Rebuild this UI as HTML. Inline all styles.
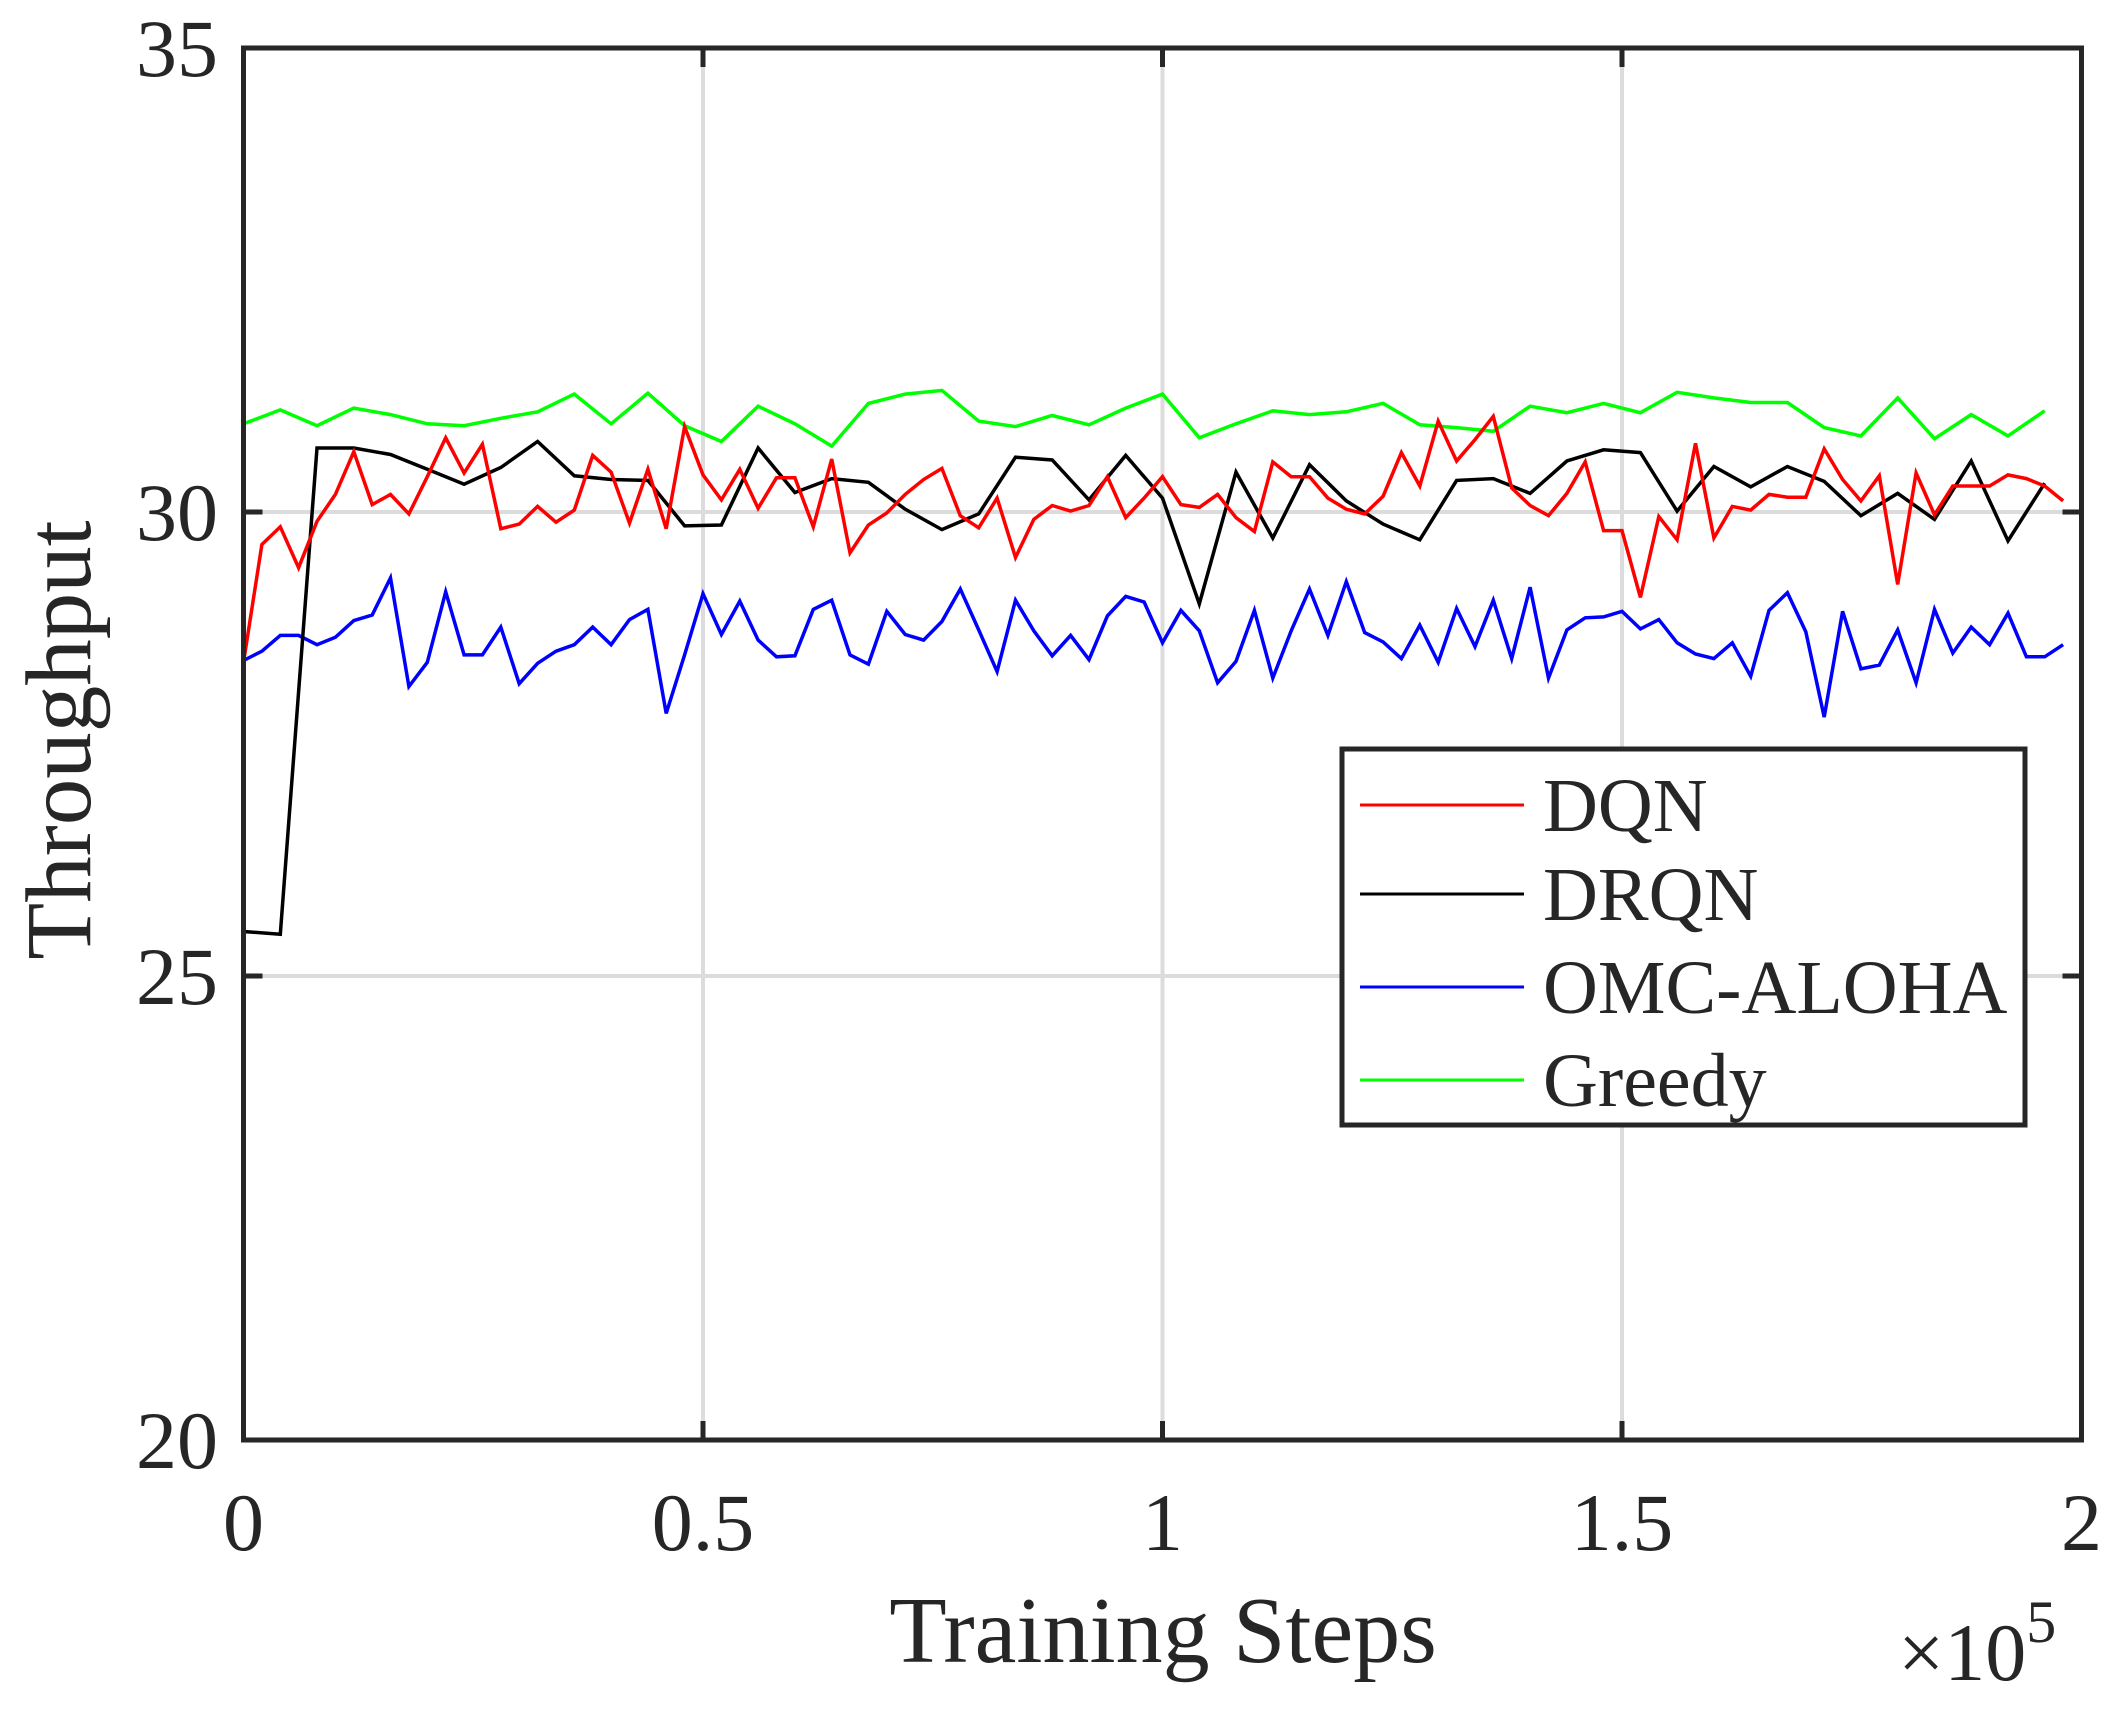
<!DOCTYPE html>
<html><head><meta charset="utf-8"><style>
html,body{margin:0;padding:0;background:#fff;}
svg{display:block;}
text{font-family:"Liberation Serif",serif;fill:#262626;}
</style></head><body>
<svg id="chart" width="2128" height="1713" viewBox="0 0 2128 1713" xmlns="http://www.w3.org/2000/svg">
<rect x="0" y="0" width="2128" height="1713" fill="#fff"/>
<g id="grid"></g>
<g id="series"></g>
<g id="axes"></g>
<text x="0" y="0" font-size="93" text-anchor="middle" transform="translate(90,740) rotate(-90)">Throughput</text>
<text x="1163" y="1662" font-size="94" text-anchor="middle">Training Steps</text>
<text x="1898" y="1680" font-size="82">×10<tspan dy="-38" font-size="60">5</tspan></text>
<g id="legend">
<rect x="1342" y="749" width="683" height="376" fill="#fff" stroke="#262626" stroke-width="5"/>
<g><line x1="1360" y1="805" x2="1524" y2="805" stroke="#ff0000" stroke-width="3"/><text x="1543" y="831" font-size="76">DQN</text></g>
<g><line x1="1360" y1="894" x2="1524" y2="894" stroke="#000" stroke-width="3"/><text x="1543" y="920" font-size="76">DRQN</text></g>
<g><line x1="1360" y1="987" x2="1524" y2="987" stroke="#0000ff" stroke-width="3"/><text x="1543" y="1013" font-size="76">OMC-ALOHA</text></g>
<g><line x1="1360" y1="1080" x2="1524" y2="1080" stroke="#00ff00" stroke-width="3"/><text x="1543" y="1106" font-size="76">Greedy</text></g>
</g>
</svg>
<script>
const xTicks = [0, 0.5, 1, 1.5, 2];
const xTickLabels = ["0", "0.5", "1", "1.5", "2"];
const yTicks = [20, 25, 30, 35];
const yTickLabels = ["20", "25", "30", "35"];
const dqn = [28.38,29.65,29.84,29.40,29.90,30.19,30.65,30.08,30.19,29.98,30.38,30.80,30.42,30.73,29.82,29.87,30.06,29.89,30.02,30.61,30.43,29.88,30.46,29.82,30.92,30.40,30.13,30.46,30.04,30.37,30.37,29.84,30.57,29.56,29.86,29.99,30.19,30.35,30.47,29.96,29.83,30.15,29.51,29.92,30.07,30.01,30.07,30.38,29.94,30.15,30.38,30.08,30.05,30.19,29.94,29.79,30.54,30.38,30.38,30.15,30.03,29.98,30.17,30.64,30.28,30.98,30.55,30.78,31.03,30.26,30.07,29.96,30.20,30.54,29.80,29.80,29.08,29.95,29.70,30.74,29.72,30.06,30.02,30.19,30.16,30.16,30.68,30.35,30.12,30.39,29.22,30.42,29.97,30.28,30.28,30.28,30.40,30.36,30.28,30.12];
const omc = [28.40,28.50,28.67,28.67,28.57,28.65,28.83,28.89,29.29,28.12,28.38,29.14,28.46,28.46,28.76,28.15,28.37,28.50,28.57,28.76,28.57,28.84,28.95,27.83,28.46,29.12,28.68,29.04,28.62,28.44,28.45,28.95,29.05,28.46,28.36,28.93,28.68,28.62,28.82,29.17,28.73,28.28,29.05,28.72,28.45,28.67,28.41,28.88,29.09,29.03,28.59,28.94,28.72,28.16,28.39,28.94,28.21,28.72,29.17,28.67,29.25,28.70,28.60,28.42,28.78,28.38,28.96,28.55,29.05,28.42,29.19,28.21,28.73,28.86,28.87,28.93,28.74,28.84,28.59,28.47,28.42,28.59,28.23,28.94,29.13,28.71,27.79,28.93,28.31,28.35,28.73,28.16,28.95,28.48,28.76,28.57,28.91,28.44,28.44,28.57];
const drqn = [25.48,25.45,30.69,30.69,30.62,30.46,30.30,30.48,30.76,30.39,30.35,30.34,29.85,29.86,30.69,30.21,30.36,30.32,30.03,29.81,29.98,30.59,30.56,30.13,30.61,30.15,29.01,30.43,29.72,30.51,30.12,29.87,29.70,30.34,30.36,30.20,30.55,30.67,30.64,30.01,30.49,30.27,30.49,30.33,29.96,30.20,29.92,30.55,29.69,30.31];
const greedy = [30.95,31.10,30.93,31.12,31.05,30.95,30.93,31.01,31.08,31.27,30.95,31.28,30.93,30.76,31.14,30.95,30.71,31.17,31.27,31.31,30.98,30.92,31.04,30.94,31.12,31.27,30.80,30.95,31.09,31.05,31.08,31.17,30.94,30.91,30.87,31.14,31.07,31.17,31.07,31.29,31.23,31.18,31.18,30.91,30.82,31.23,30.79,31.05,30.82,31.09];
const fineStep = 0.02;
const coarseStep = 0.04;

const L = 243.5, R = 2081.5, T = 48, B = 1440;
const NS = 'http://www.w3.org/2000/svg';
function sx(v){ return L + (v - 0) / (2 - 0) * (R - L); }
function sy(v){ return B - (v - 20) / (35 - 20) * (B - T); }
function mk(tag, attrs, parent){
  const e = document.createElementNS(NS, tag);
  for (const k in attrs) e.setAttribute(k, attrs[k]);
  parent.appendChild(e);
  return e;
}
const grid = document.getElementById('grid');
const axes = document.getElementById('axes');
const series = document.getElementById('series');

xTicks.forEach((t, i) => {
  const X = sx(t);
  if (i > 0 && i < xTicks.length - 1) {
    const g = mk('line', {x1:X, y1:T, x2:X, y2:B, stroke:'#dcdcdc', 'stroke-width':4}, grid);
    
    
  }
  const tk = mk('path', {d:`M${X},${B}V${B-19}M${X},${T}V${T+19}`, stroke:'#262626', 'stroke-width':5}, axes);
  
  
  const lb = mk('text', {x:X, y:1550, 'font-size':82, 'text-anchor':'middle'}, axes);
  lb.textContent = xTickLabels[i];
  
  
});
yTicks.forEach((t, i) => {
  const Y = sy(t);
  if (i > 0 && i < yTicks.length - 1) {
    const g = mk('line', {x1:L, y1:Y, x2:R, y2:Y, stroke:'#dcdcdc', 'stroke-width':4}, grid);
    
    
  }
  const tk = mk('path', {d:`M${L},${Y}H${L+19}M${R},${Y}H${R-19}`, stroke:'#262626', 'stroke-width':5}, axes);
  
  
  const lb = mk('text', {x:218, y:Y+28, 'font-size':82, 'text-anchor':'end'}, axes);
  lb.textContent = yTickLabels[i];
  
  
});
const frame = mk('rect', {x:L, y:T, width:R-L, height:B-T, fill:'none', stroke:'#262626', 'stroke-width':5}, axes);



function drawLine(vals, step, color, name){
  const pts = vals.map((v, i) => sx(i * step).toFixed(1) + ',' + sy(v).toFixed(1)).join(' ');
  const p = mk('polyline', {points:pts, fill:'none', stroke:color, 'stroke-width':3.5, 'stroke-linejoin':'miter'}, series);
  
  
}
drawLine(greedy, coarseStep, '#00ff00', 'greedy-line');
drawLine(omc, fineStep, '#0000ff', 'omc-aloha-line');
drawLine(drqn, coarseStep, '#000000', 'drqn-line');
drawLine(dqn, fineStep, '#ff0000', 'dqn-line');
</script>
</body></html>
